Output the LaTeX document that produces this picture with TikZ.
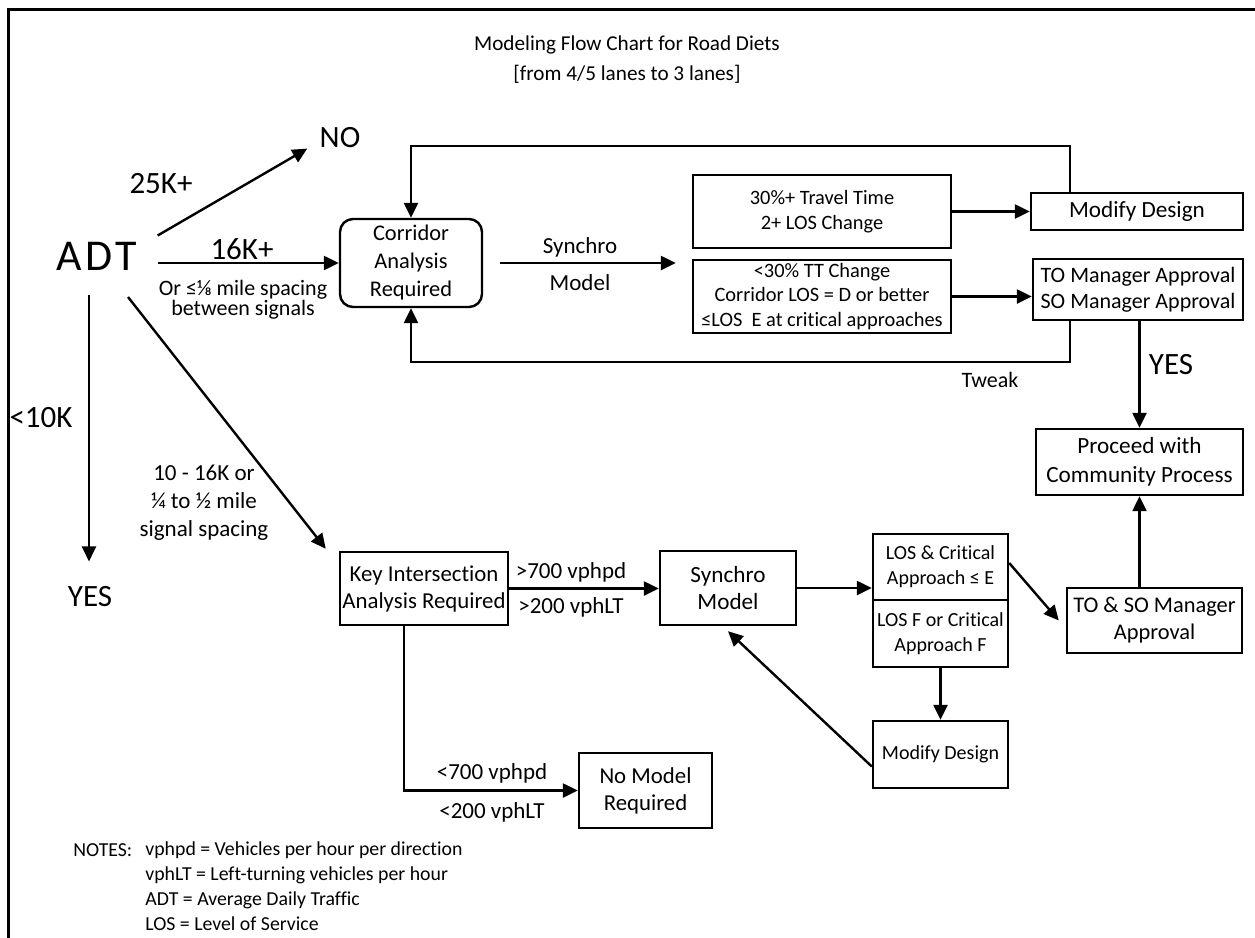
\documentclass[tikz,border=0pt]{standalone}
\usepackage{fontspec}
\setmainfont{Carlito}[Ligatures=NoCommon]
\usetikzlibrary{arrows.meta}

\begin{document}
\begin{tikzpicture}[x=0.5pt,y=-0.5pt,
  every node/.style={align=center,inner sep=0pt},
  box/.style={draw,line width=1.2pt},
  arr/.style={line width=1.2pt,-{Triangle[length=7.5pt,width=7pt]}},
  big/.style={font=\fontsize{15.5}{18}\selectfont},
  lbl/.style={font=\fontsize{11.5}{14}\selectfont}]

  \useasboundingbox (0,0) rectangle (1255,938);
  \draw[line width=1.5pt] (8,938) -- (8,9) -- (1255,9);

  \node[font=\fontsize{10.6}{15}\selectfont] (title) at (627,60)
    {Modeling Flow Chart for Road Diets\\{}[from 4/5 lanes to 3 lanes]};

  % left side
  \node[font=\fontsize{22}{22}\selectfont\addfontfeatures{LetterSpace=8},
    inner xsep=10pt,inner ysep=3pt] (adt) at (97,256) {ADT};
  \coordinate (adts) at (89,295);
  \coordinate (adtse) at (128,297);
  \node[big] (no) at (340,138) {NO};
  \node[big] (k25) at (161,184) {25K+};
  \node[big] (k16) at (242,249) {16K+};
  \node[big] (k10) at (41,418) {<10K};
  \node[big] (yes) at (90,597) {YES};
  \node[font=\fontsize{11}{10}\selectfont] (spc) at (243,300)
    {Or ≤⅛ mile spacing\\between signals};
  \node[font=\fontsize{11.5}{14}\selectfont] (mid) at (204,503)
    {10 - 16K or\\¼ to ½ mile\\signal spacing};

  % corridor branch
  \node[box,rounded corners=6.5pt,minimum width=71pt,minimum height=44pt,
    font=\fontsize{11.2}{14}\selectfont] (corridor) at (411,263)
    {Corridor\\Analysis\\Required};
  \node[lbl] (syn1) at (580,247) {Synchro};
  \node[lbl] (syn2) at (580,283) {Model};
  \node[box,minimum width=129pt,minimum height=36.5pt,
    font=\fontsize{10.2}{12.5}\selectfont] (tt) at (822,211.5)
    {30\%+ Travel Time\\2+ LOS Change};
  \node[box,minimum width=129pt,minimum height=36.5pt,
    font=\fontsize{10.2}{12.25}\selectfont] (ttok) at (822,296.5)
    {<30\% TT Change\\Corridor LOS = D or better\\≤LOS\ \ E at critical approaches};
  \node[box,minimum width=106pt,minimum height=18.5pt,
    font=\fontsize{11.6}{14}\selectfont] (moddes) at (1137,211.5) {Modify Design};
  \node[box,minimum width=105pt,minimum height=30.5pt,
    font=\fontsize{11}{13}\selectfont] (approv) at (1138,289.5)
    {TO Manager Approval\\SO Manager Approval};
  \coordinate (fb) at (1070,146);
  \coordinate (tw) at (1070,362);
  \node[font=\fontsize{11}{13}\selectfont] (tweak) at (990,380) {Tweak};
  \node[big] (yes2) at (1171,365) {YES};
  \node[box,minimum width=103.5pt,minimum height=33pt,
    font=\fontsize{11.6}{14.5}\selectfont] (proceed) at (1139.5,462)
    {Proceed with\\Community Process};

  % key intersection branch
  \node[box,minimum width=84pt,minimum height=36.5pt,
    font=\fontsize{11.4}{13.5}\selectfont] (key) at (424,588.5)
    {Key Intersection\\Analysis Required};
  \node[lbl] (hi1) at (571,572) {>700 vphpd};
  \node[lbl] (hi2) at (571,607) {>200 vphLT};
  \node[box,minimum width=68pt,minimum height=37pt,
    font=\fontsize{11.6}{13.5}\selectfont] (synchro) at (728,588) {Synchro\\Model};
  \node[box,minimum width=67.5pt,minimum height=33pt,
    font=\fontsize{10}{12.5}\selectfont] (losok) at (940.5,567)
    {LOS \& Critical\\Approach ≤ E};
  \node[box,minimum width=67.5pt,minimum height=33.5pt,
    font=\fontsize{10}{12.5}\selectfont] (losf) at (940.5,633.5)
    {LOS F or Critical\\Approach F};
  \node[box,minimum width=67.5pt,minimum height=33.5pt,
    font=\fontsize{10}{12}\selectfont] (moddes2) at (940.5,754.5) {Modify Design};
  \node[box,minimum width=87.5pt,minimum height=32.5pt,
    font=\fontsize{11.2}{13.5}\selectfont] (toso) at (1154.5,620.5)
    {TO \& SO Manager\\Approval};
  \node[box,minimum width=66.5pt,minimum height=37.5pt,
    font=\fontsize{11.4}{13.5}\selectfont] (nomodel) at (645.5,790.5)
    {No Model\\Required};
  \node[lbl] (lo1) at (492,773) {<700 vphpd};
  \node[lbl] (lo2) at (492,812) {<200 vphLT};

  % notes
  \node[font=\fontsize{9.9}{12.5}\selectfont,anchor=west] (notes) at (73,850) {NOTES:};
  \node[font=\fontsize{9.9}{12.5}\selectfont,anchor=north west,align=left] (defs)
    at (145,841) {vphpd = Vehicles per hour per direction\\
    vphLT = Left-turning vehicles per hour\\ADT = Average Daily Traffic\\
    LOS = Level of Service};

  % connectors
  \draw[arr] (adt.north east) -- ([xshift=-6pt]no.south west);
  \draw[arr] (adt.east |- corridor.west) -- (corridor.west);
  \draw[arr,shorten >=12.5pt] (adts) -- (adts |- yes.north);
  \draw[arr] (adtse) -- ([shift={(-6.5pt,1pt)}]key.north west);
  \draw[arr] (moddes.north -| fb) -- (fb) -| (corridor.north);
  \draw[arr] (approv.south -| tw) -- (tw) -| (corridor.south);
  \draw[arr,shorten <=8.5pt,shorten >=8pt] (corridor.east) -- (corridor.east -| tt.west);
  \draw[arr] (tt.east) -- (tt.east -| moddes.west);
  \draw[arr] (ttok.east) -- (ttok.east -| approv.west);
  \draw[arr] (approv.south -| proceed.north) -- (proceed.north);
  \draw[arr] (toso.north -| proceed.south) -- (proceed.south);
  \draw[arr] (key.east) -- (key.east -| synchro.west);
  \draw[arr] ([xshift=-10pt]key.south) |- (nomodel.west);
  \draw[arr] (synchro.east) -- (synchro.east -| losok.west);
  \draw[arr] ([yshift=2pt]losok.east) -- ([xshift=-3.5pt]toso.west);
  \draw[arr] (losf.south) -- (moddes2.north);
  \draw[arr] ([yshift=-6pt]moddes2.west) -- ([yshift=-2.5pt]synchro.south);
\end{tikzpicture}
\end{document}
